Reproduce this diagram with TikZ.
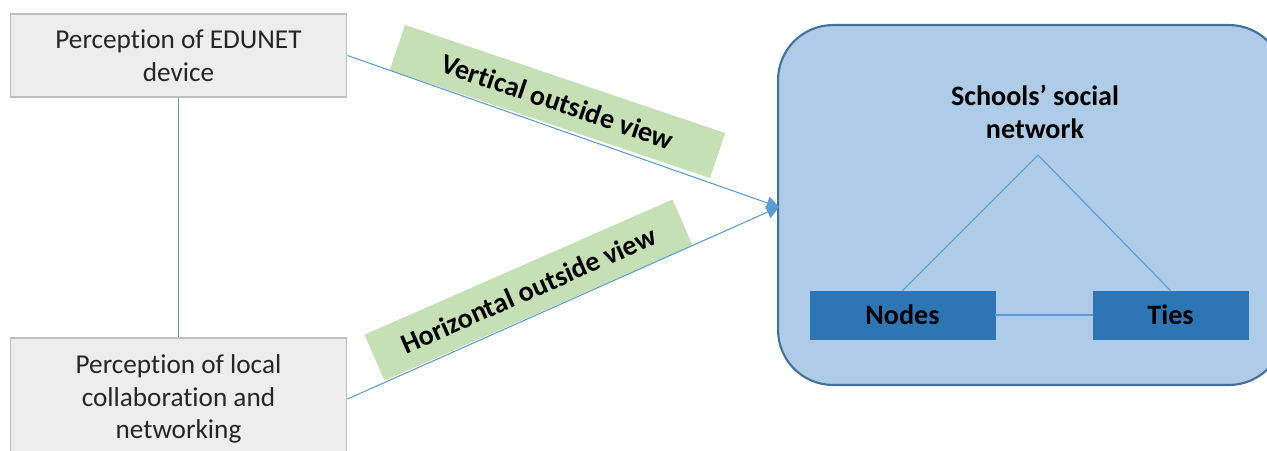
\documentclass[tikz,border=0pt]{standalone}
\usepackage{fontspec}
\setmainfont{Carlito}[RawFeature={-liga;-clig}]
\usetikzlibrary{arrows.meta}
\definecolor{grayfill}{HTML}{EDEDED}
\definecolor{grayline}{HTML}{BFBFBF}
\definecolor{greenfill}{HTML}{C5E0B4}
\definecolor{bigfill}{HTML}{AECBE8}
\definecolor{bigline}{HTML}{41719C}
\definecolor{darkblue}{HTML}{2E75B6}
\definecolor{conncol}{HTML}{5B9BD5}
\definecolor{txtgray}{HTML}{262626}
\tikzset{
  graybox/.style={draw=grayline, fill=grayfill, line width=0.6pt, align=center,
    text=txtgray, font=\fontsize{15.5}{18.7}\selectfont, inner sep=0pt},
  greenlabel/.style={fill=greenfill, font=\fontsize{16}{19}\selectfont\bfseries, inner sep=0pt},
  darkbox/.style={fill=darkblue, draw=darkblue, font=\fontsize{16}{19}\selectfont\bfseries, inner sep=0pt,
    minimum height=0.96cm},
  conn/.style={draw=conncol, line width=0.6pt},
  arr/.style={conn, -{Triangle[length=7pt,width=7.5pt]}, color=conncol}
}
\begin{document}
\begin{tikzpicture}[x=0.02cm,y=-0.02cm]
\useasboundingbox (0,0) rectangle (1267,450);
\begin{scope}
\clip (0,0) rectangle (1267,450);
% left boxes
\node[graybox, minimum width=6.74cm, minimum height=1.66cm] (top) at (178.5,55.5) {Perception of EDUNET\\device};
\node[graybox, minimum width=6.74cm, minimum height=2.44cm] (bot) at (178.5,399) {Perception of local\\collaboration and\\networking};
% big rounded box
\node[draw=bigline, fill=bigfill, line width=1.2pt, rounded corners=1.1cm,
  minimum width=10.12cm, minimum height=7.2cm, inner sep=0pt] (big) at (1031,205) {};
\end{scope}
\draw[conn] (top.south) -- (bot.north);
% green labels
\node[greenlabel, rotate=-18.65, minimum width=6.76cm, minimum height=0.95cm] (vlab) at (557.5,101.5) {Vertical outside view};
\node[greenlabel, rotate=23.7, minimum width=6.73cm, minimum height=1.0cm] (hlab) at (528.5,290) {Horizontal outside view};
% connectors
\coordinate (tip) at (779,207);
\draw[arr] (top.east) -- (tip);
\draw[arr] (bot.east) -- (tip);
% inside
\node[font=\fontsize{16}{18.7}\selectfont\bfseries, align=center, inner sep=0pt] (snet) at (1035,112) {Schools’ social\\network};
\coordinate (apex) at (1038,155);
\node[darkbox, minimum width=3.7cm] (nodes) at (902.5,315) {Nodes};
\node[darkbox, minimum width=3.1cm] (ties) at (1170.5,315) {Ties};
\draw[conn] (nodes.north) -- (apex) -- (ties.north);
\draw[conn] (nodes.east) -- (ties.west);
\end{tikzpicture}
\end{document}
